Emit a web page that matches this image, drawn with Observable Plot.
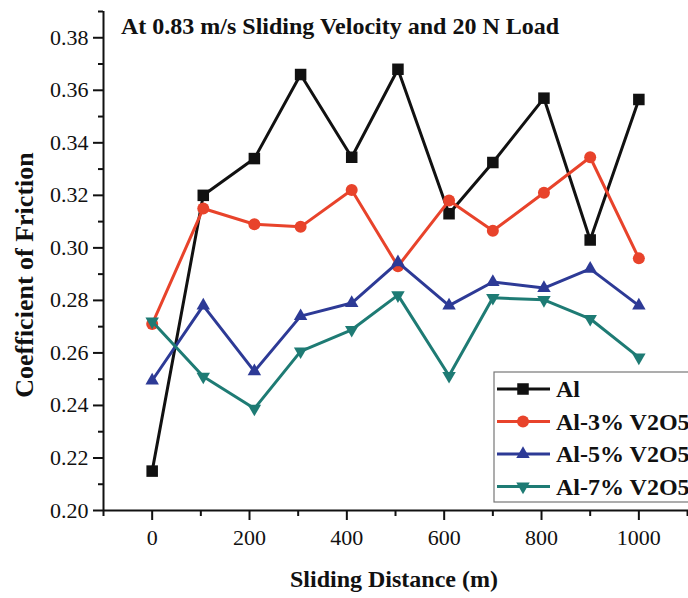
<!DOCTYPE html>
<html>
<head>
<meta charset="utf-8">
<script src="https://cdn.jsdelivr.net/npm/d3@7"></script>
<script src="https://cdn.jsdelivr.net/npm/@observablehq/plot@0.6"></script>
<style>
  html, body { margin: 0; padding: 0; background: #fff; }
  #chart { width: 688px; height: 598px; overflow: hidden; }
  #chart svg text { font-family: 'Liberation Serif', 'Times New Roman', serif; }
</style>
</head>
<body>
<div id="chart"></div>
<script>
// Sliding distance (m) at which friction was recorded
const distance = [0, 105, 210, 305, 410, 505, 610, 700, 805, 900, 1000];

// Coefficient of friction for each composition
const al   = [0.215, 0.320, 0.334, 0.366, 0.3345, 0.368, 0.313, 0.3325, 0.357, 0.303, 0.3565];
const al3  = [0.271, 0.315, 0.309, 0.308, 0.322, 0.293, 0.318, 0.3065, 0.321, 0.3345, 0.296];
const al5  = [0.2495, 0.278, 0.253, 0.274, 0.279, 0.2945, 0.278, 0.287, 0.2847, 0.292, 0.278];
const al7  = [0.272, 0.251, 0.2388, 0.2606, 0.2688, 0.282, 0.2513, 0.281, 0.2802, 0.273, 0.2583];

const seriesNames = ["Al", "Al-3% V2O5", "Al-5% V2O5", "Al-7% V2O5"];
const seriesColors = ["#111111", "#e8432b", "#2d3a96", "#1e7b74"];

// Tick values
const xMajor = [0, 200, 400, 600, 800, 1000];
const xMinor = [-100, 100, 300, 500, 700, 900, 1100];
const yMajor = [0.20, 0.22, 0.24, 0.26, 0.28, 0.30, 0.32, 0.34, 0.36, 0.38];
const yMinor = [0.21, 0.23, 0.25, 0.27, 0.29, 0.31, 0.33, 0.35, 0.37, 0.39];

const title = "At 0.83 m/s Sliding Velocity and 20 N Load";
const xLabel = "Sliding Distance (m)";
const yLabel = "Coefficient of Friction";

// Downward-pointing triangle, same geometry as d3.symbolTriangle flipped
const sqrt3 = Math.sqrt(3);
const triangleDown = {
  draw(context, size) {
    const y = -Math.sqrt(size / (sqrt3 * 3));
    context.moveTo(0, -y * 2);
    context.lineTo(-sqrt3 * y, y);
    context.lineTo(sqrt3 * y, y);
    context.closePath();
  }
};
const seriesSymbols = ["square", "circle", "triangle", triangleDown];
const seriesRadius = [6.5, 6, 5, 5];

const seriesValues = [al, al3, al5, al7];
const rows = seriesNames.flatMap((name, i) =>
  distance.map((d, j) => ({series: name, distance: d, cof: seriesValues[i][j], k: i}))
);

const serif = "'Liberation Serif', 'Times New Roman', serif";

const marks = [];
// Axis lines
marks.push(Plot.ruleX([-100], {stroke: "#111", strokeWidth: 2}));
marks.push(Plot.ruleY([0.20], {stroke: "#111", strokeWidth: 2}));
// Axes with major and minor ticks
marks.push(Plot.axisY(yMajor, {tickSize: 10, tickPadding: 5, strokeWidth: 2, fontSize: 22, fill: "#111", tickFormat: d3.format(".2f"), label: null}));
marks.push(Plot.axisY(yMinor, {tickSize: 5, strokeWidth: 2, tickFormat: () => "", label: null}));
marks.push(Plot.axisX(xMajor, {tickSize: 10, tickPadding: 9, strokeWidth: 2, fontSize: 22, fill: "#111", tickFormat: d3.format("d"), label: null}));
marks.push(Plot.axisX(xMinor, {tickSize: 6, strokeWidth: 2, tickFormat: () => "", label: null}));

// One line plus markers per series, drawn in legend order
seriesNames.forEach((name, i) => {
  const data = rows.filter(r => r.k === i);
  marks.push(Plot.line(data, {x: "distance", y: "cof", stroke: seriesColors[i], strokeWidth: 3}));
  marks.push(Plot.dot(data, {x: "distance", y: "cof", symbol: () => seriesSymbols[i], fill: seriesColors[i], stroke: "none", r: seriesRadius[i]}));
});

const chart = Plot.plot({
  width: 688,
  height: 598,
  marginLeft: 103,
  marginTop: 11,
  marginBottom: 88,
  marginRight: 0,
  style: {fontFamily: serif, fontSize: "22px", color: "#111", background: "#fff", overflow: "visible"},
  x: {domain: [-100, 1102], axis: null},
  y: {domain: [0.20, 0.39], axis: null},
  symbol: {type: "identity"},
  marks
});

const svg = d3.select(chart);

// Title
svg.append("text")
  .attr("x", 121).attr("y", 34)
  .attr("text-anchor", "start")
  .attr("font-family", serif).attr("font-weight", "bold").attr("font-size", 24)
  .attr("fill", "#111")
  .text(title);

// Axis titles
svg.append("text")
  .attr("x", 394).attr("y", 587)
  .attr("text-anchor", "middle")
  .attr("font-family", serif).attr("font-weight", "bold").attr("font-size", 24)
  .attr("fill", "#111")
  .text(xLabel);

svg.append("text")
  .attr("transform", "translate(33,275) rotate(-90)")
  .attr("text-anchor", "middle")
  .attr("font-family", serif).attr("font-weight", "bold").attr("font-size", 26)
  .attr("fill", "#111")
  .text(yLabel);

// Legend box (runs off the right edge)
const legend = svg.append("g").attr("transform", "translate(494,372)");
legend.append("rect")
  .attr("x", 0).attr("y", 0).attr("width", 260).attr("height", 130)
  .attr("fill", "#fff").attr("stroke", "#777").attr("stroke-width", 1.2);
seriesNames.forEach((name, i) => {
  const cy = 17 + i * 32.5;
  const row = legend.append("g").attr("transform", `translate(0,${cy})`);
  row.append("line").attr("x1", 3).attr("x2", 56).attr("y1", 0).attr("y2", 0)
    .attr("stroke", seriesColors[i]).attr("stroke-width", 3);
  const sym = typeof seriesSymbols[i] === "string"
    ? {square: d3.symbolSquare, circle: d3.symbolCircle, triangle: d3.symbolTriangle}[seriesSymbols[i]]
    : seriesSymbols[i];
  row.append("path")
    .attr("transform", "translate(29,0)")
    .attr("d", d3.symbol(sym, Math.PI * seriesRadius[i] * seriesRadius[i])())
    .attr("fill", seriesColors[i]);
  row.append("text")
    .attr("x", 62).attr("y", 8)
    .attr("text-anchor", "start")
    .attr("font-family", serif).attr("font-weight", "bold").attr("font-size", 24)
    .attr("fill", "#111")
    .text(name);
});

document.getElementById("chart").appendChild(chart);
</script>
</body>
</html>
